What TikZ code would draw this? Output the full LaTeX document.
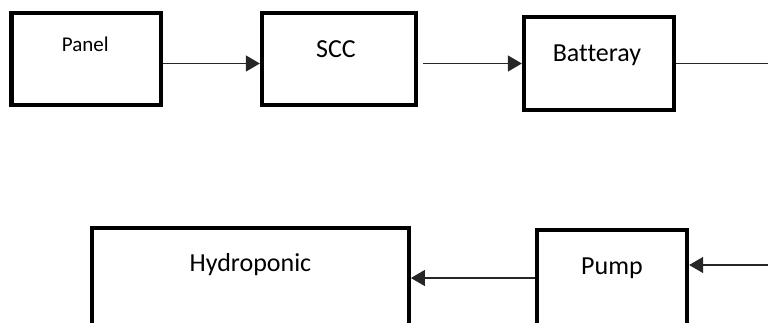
\documentclass[tikz,border=0pt]{standalone}
\usepackage{fontspec}
\setmainfont{Carlito}[Ligatures=NoCommon]
\usetikzlibrary{arrows.meta,positioning}

\begin{document}
\begin{tikzpicture}[x=1pt,y=-1pt,every node/.style={font=\fontsize{26}{30}\selectfont},block/.style={draw,line width=4.3pt,minimum width=#1,minimum height=92.6pt,inner sep=0pt},block/.default=150pt,tag/.style={anchor=base},wire/.style={line width=1.3pt,black!85},arr/.style={wire,-{Triangle[length=14pt,width=16pt]}}]
\useasboundingbox (0,0) rectangle (768,322);
\clip (0,0) rectangle (768,322);
\node[block=149.5pt] (panel) at (86.25,59) {};
\node[block=154pt] (scc) at (339,59) {};
\node[block] (batteray) at (599,63.5) {};
\node[block=316.7pt,minimum height=100pt] (hydro) at (250.4,278) {};
\node[block,minimum height=110pt] (pump) at (612,285.3) {};
\node[tag,font=\fontsize{21}{25}\selectfont] (panel-txt) at ([xshift=-1pt,yshift=-41pt]panel.north) {Panel};
\node[tag] (scc-txt) at ([xshift=-3pt,yshift=-46.5pt]scc.north) {SCC};
\node[tag] (batteray-txt) at ([xshift=-2pt,yshift=-46.5pt]batteray.north) {Batteray};
\node[tag] (hydro-txt) at ([yshift=-45.7pt]hydro.north) {Hydroponic};
\node[tag] (pump-txt) at ([yshift=-46.7pt]pump.north) {Pump};
\coordinate (bat-out) at (768,63.5);
\coordinate (pump-in) at (768,265);
\draw[arr] (panel.east |- batteray.west) -- (scc.west |- batteray.west);
\draw[arr,shorten <=5pt] (scc.east |- batteray.west) -- (batteray.west);
\draw[wire] (batteray.east) -- (bat-out);
\draw[arr] (pump-in) -- (pump.east |- pump-in);
\draw[arr] (pump.west |- hydro.east) -- (hydro.east);
\end{tikzpicture}
\end{document}
